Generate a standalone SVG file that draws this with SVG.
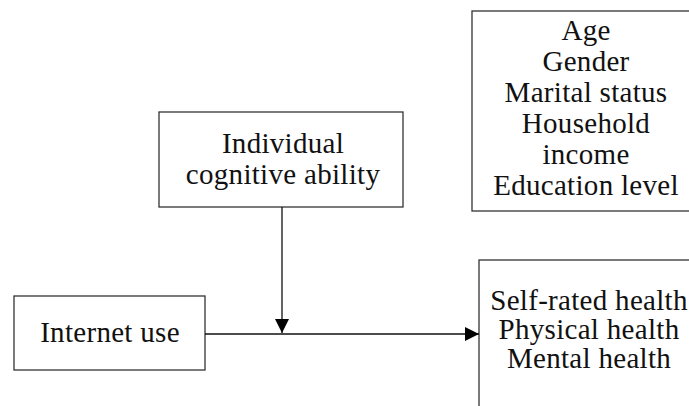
<svg xmlns="http://www.w3.org/2000/svg" width="689" height="406" viewBox="0 0 689 406">
<style>
.box{fill:#fff;stroke:#333;stroke-width:1.3}
.t{font-family:"Liberation Serif","Times New Roman",serif;font-size:29px;letter-spacing:0.3px;fill:#111;text-anchor:middle}
.ln{stroke:#111;stroke-width:1.3;fill:none}
</style>
<defs>
<marker id="ah" viewBox="0 0 14 14" refX="14" refY="7" markerWidth="14" markerHeight="14" markerUnits="userSpaceOnUse" orient="auto">
<path d="M0,0 L14,7 L0,14 Z" fill="#000"/>
</marker>
</defs>
<rect width="689" height="406" fill="#fff"/>
<g id="controls">
<rect class="box" x="472" y="11" width="230" height="200"/>
<text class="t" x="586" y="40">Age</text>
<text class="t" x="586" y="71">Gender</text>
<text class="t" x="586" y="102">Marital status</text>
<text class="t" x="586" y="133">Household</text>
<text class="t" x="586" y="164">income</text>
<text class="t" x="586" y="195">Education level</text>
</g>
<g id="moderator">
<rect class="box" x="159" y="112" width="244" height="95"/>
<text class="t" x="283" y="153">Individual</text>
<text class="t" x="283" y="184">cognitive ability</text>
</g>
<g id="internet">
<rect class="box" x="14" y="296" width="191" height="74"/>
<text class="t" x="110" y="342">Internet use</text>
</g>
<g id="outcome">
<rect class="box" x="479" y="260" width="230" height="160"/>
<text class="t" x="589" y="310">Self-rated health</text>
<text class="t" x="589" y="339">Physical health</text>
<text class="t" x="589" y="368">Mental health</text>
</g>
<g id="connectors">
<line class="ln" x1="205" y1="334" x2="479" y2="334" marker-end="url(#ah)"/>
<line class="ln" x1="282" y1="207" x2="282" y2="333" marker-end="url(#ah)"/>
</g>
</svg>
